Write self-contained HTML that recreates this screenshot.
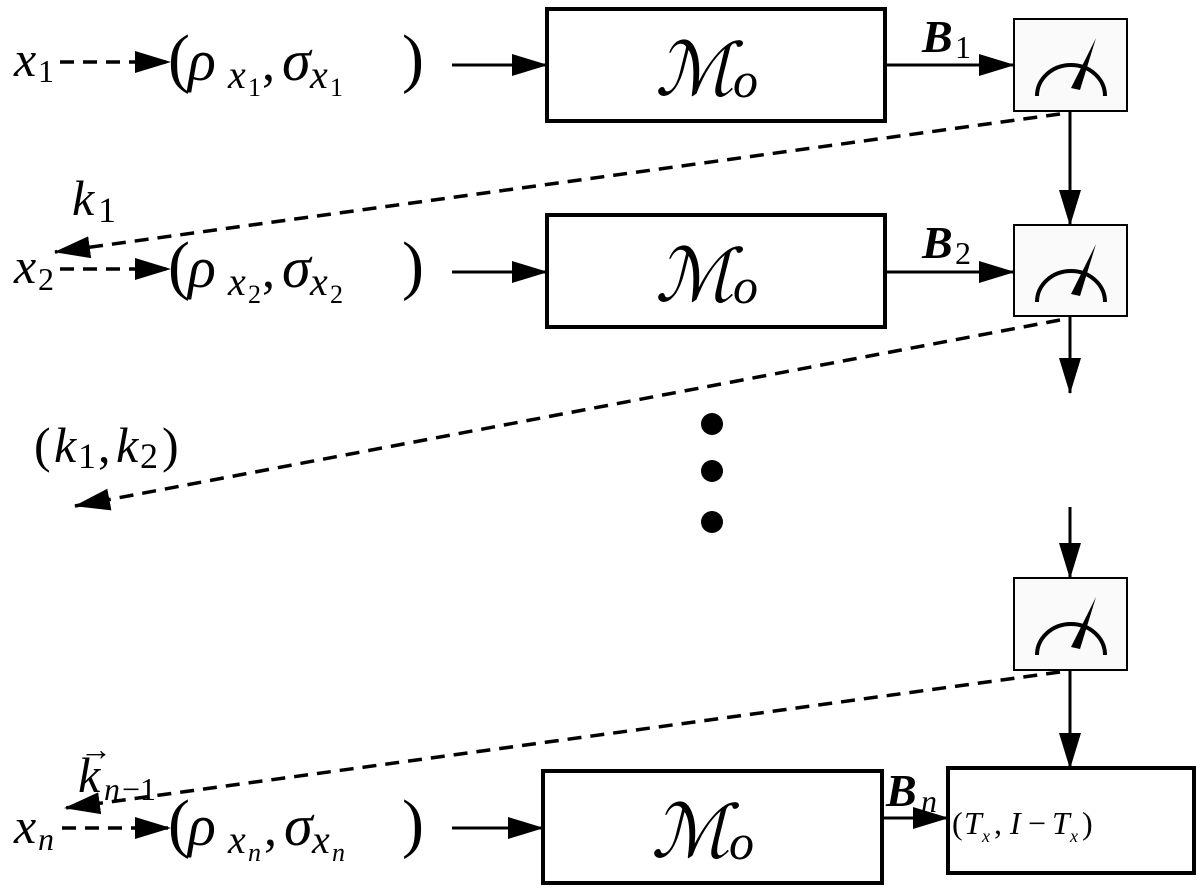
<!DOCTYPE html>
<html><head><meta charset="utf-8"><style>
html,body{margin:0;padding:0;background:#fff;}
svg{display:block;}
text{font-family:"Liberation Serif","DejaVu Serif",serif;fill:#000;}
.i{font-style:italic;}
</style></head><body>
<svg width="1204" height="894" viewBox="0 0 1204 894" xmlns="http://www.w3.org/2000/svg">
<defs>
<marker id="b" viewBox="0 0 36 22" markerWidth="36" markerHeight="22" refX="35" refY="11" orient="auto" markerUnits="userSpaceOnUse"><path d="M0,0 L36,11 L0,22 z" fill="#000"/></marker>
</defs>
<g stroke="#000" fill="none">
<rect x="547" y="9" width="338" height="112" stroke-width="4"/>
<rect x="547" y="215" width="338" height="112" stroke-width="4"/>
<rect x="543" y="771" width="339" height="112" stroke-width="4"/>
<rect x="948" y="768" width="246" height="105" stroke-width="4"/>
<rect x="1014" y="19" width="113" height="92" stroke-width="2" fill="#fafafa"/>
<rect x="1014" y="225" width="113" height="91" stroke-width="2" fill="#fafafa"/>
<rect x="1014" y="578" width="113" height="92" stroke-width="2" fill="#fafafa"/>
<path d="M1037,96 A34,31 0 0 1 1105,96" stroke-width="4"/>
<path d="M1037,302 A34,31 0 0 1 1105,302" stroke-width="4"/>
<path d="M1037,655 A34,31 0 0 1 1105,655" stroke-width="4"/>
<g stroke-width="3">
<line x1="452" y1="65" x2="547" y2="65" marker-end="url(#b)"/>
<line x1="452" y1="272" x2="547" y2="272" marker-end="url(#b)"/>
<line x1="452" y1="828" x2="543" y2="828" marker-end="url(#b)"/>
<line x1="885" y1="65" x2="1014" y2="65" marker-end="url(#b)"/>
<line x1="885" y1="272" x2="1014" y2="272" marker-end="url(#b)"/>
<line x1="882" y1="818" x2="948" y2="818" marker-end="url(#b)"/>
<line x1="1070" y1="111" x2="1070" y2="225" marker-end="url(#b)"/>
<line x1="1070" y1="316" x2="1070" y2="393" marker-end="url(#b)"/>
<line x1="1070" y1="507" x2="1070" y2="578" marker-end="url(#b)"/>
<line x1="1070" y1="670" x2="1070" y2="768" marker-end="url(#b)"/>
</g>
<g stroke-width="3.5" stroke-dasharray="14,9">
<line x1="60" y1="62" x2="170" y2="62" marker-end="url(#b)"/>
<line x1="60" y1="269" x2="170" y2="269" marker-end="url(#b)"/>
<line x1="62" y1="828" x2="170" y2="828" marker-end="url(#b)"/>
<line x1="1060" y1="114" x2="55" y2="252" marker-end="url(#b)"/>
<line x1="1060" y1="320" x2="75" y2="506" marker-end="url(#b)"/>
<line x1="1060" y1="672" x2="65" y2="808" marker-end="url(#b)"/>
</g>
</g>
<path d="M1071,88 L1080,90 L1096,38 z" fill="#000"/>
<path d="M1071,294 L1080,296 L1096,244 z" fill="#000"/>
<path d="M1071,647 L1080,649 L1096,597 z" fill="#000"/>
<circle cx="712" cy="424" r="11" fill="#000"/>
<circle cx="712" cy="471" r="11" fill="#000"/>
<circle cx="712" cy="522" r="11" fill="#000"/>

<!-- left labels -->
<text x="14" y="76" font-size="50" class="i">x</text><text x="38" y="82" font-size="32">1</text>
<text x="14" y="283" font-size="50" class="i">x</text><text x="38" y="290" font-size="32">2</text>
<text x="14" y="843" font-size="50" class="i">x</text><text x="38" y="850" font-size="32" class="i">n</text>

<!-- rho/sigma rows -->
<g>
<text x="168" y="80" font-size="66">(</text>
<text x="188" y="80" font-size="58" class="i">ρ</text>
<text x="228" y="88" font-size="40" class="i">x</text><text x="248" y="96" font-size="26">1</text>
<text x="262" y="80" font-size="52">,</text>
<text x="282" y="80" font-size="58" class="i">σ</text>
<text x="310" y="88" font-size="40" class="i">x</text><text x="330" y="96" font-size="26">1</text>
<text x="402" y="80" font-size="66">)</text>
</g>
<g>
<text x="168" y="287" font-size="66">(</text>
<text x="188" y="287" font-size="58" class="i">ρ</text>
<text x="228" y="295" font-size="40" class="i">x</text><text x="248" y="303" font-size="26">2</text>
<text x="262" y="287" font-size="52">,</text>
<text x="282" y="287" font-size="58" class="i">σ</text>
<text x="310" y="295" font-size="40" class="i">x</text><text x="330" y="303" font-size="26">2</text>
<text x="402" y="287" font-size="66">)</text>
</g>
<g>
<text x="168" y="845" font-size="66">(</text>
<text x="188" y="845" font-size="58" class="i">ρ</text>
<text x="228" y="853" font-size="40" class="i">x</text><text x="248" y="861" font-size="26" class="i">n</text>
<text x="264" y="845" font-size="52">,</text>
<text x="284" y="845" font-size="58" class="i">σ</text>
<text x="312" y="853" font-size="40" class="i">x</text><text x="332" y="861" font-size="26" class="i">n</text>
<text x="402" y="845" font-size="66">)</text>
</g>

<text x="72" y="215" font-size="50" class="i">k</text><text x="98" y="222" font-size="36">1</text>
<text x="34" y="462" font-size="50">(</text><text x="54" y="462" font-size="50" class="i">k</text><text x="78" y="468" font-size="36">1</text><text x="98" y="462" font-size="50">,</text><text x="116" y="462" font-size="50" class="i">k</text><text x="140" y="468" font-size="36">2</text><text x="162" y="462" font-size="50">)</text>
<text x="78" y="792" font-size="50" class="i">k</text><text x="80" y="760" font-size="32">→</text><text x="104" y="800" font-size="32" class="i">n</text><text x="122" y="800" font-size="32">−1</text>

<text x="655" y="95" font-size="74" class="i">ℳ</text><text x="733" y="97" font-size="50" class="i">o</text>
<text x="655" y="301" font-size="74" class="i">ℳ</text><text x="733" y="303" font-size="50" class="i">o</text>
<text x="651" y="857" font-size="74" class="i">ℳ</text><text x="729" y="859" font-size="50" class="i">o</text>

<text x="922" y="52" font-size="46" class="i" font-weight="bold">B</text><text x="955" y="58" font-size="32">1</text>
<text x="922" y="258" font-size="46" class="i" font-weight="bold">B</text><text x="955" y="264" font-size="32">2</text>
<text x="886" y="806" font-size="46" class="i" font-weight="bold">B</text><text x="921" y="812" font-size="32" class="i">n</text>
<text x="952" y="834" font-size="32">(</text><text x="964" y="834" font-size="32" class="i">T</text><text x="982" y="842" font-size="18" class="i">x</text><text x="994" y="834" font-size="32">,</text><text x="1010" y="834" font-size="32" class="i">I</text><text x="1028" y="834" font-size="32">−</text><text x="1052" y="834" font-size="32" class="i">T</text><text x="1070" y="842" font-size="18" class="i">x</text><text x="1082" y="834" font-size="32">)</text>
</svg>
</body></html>
